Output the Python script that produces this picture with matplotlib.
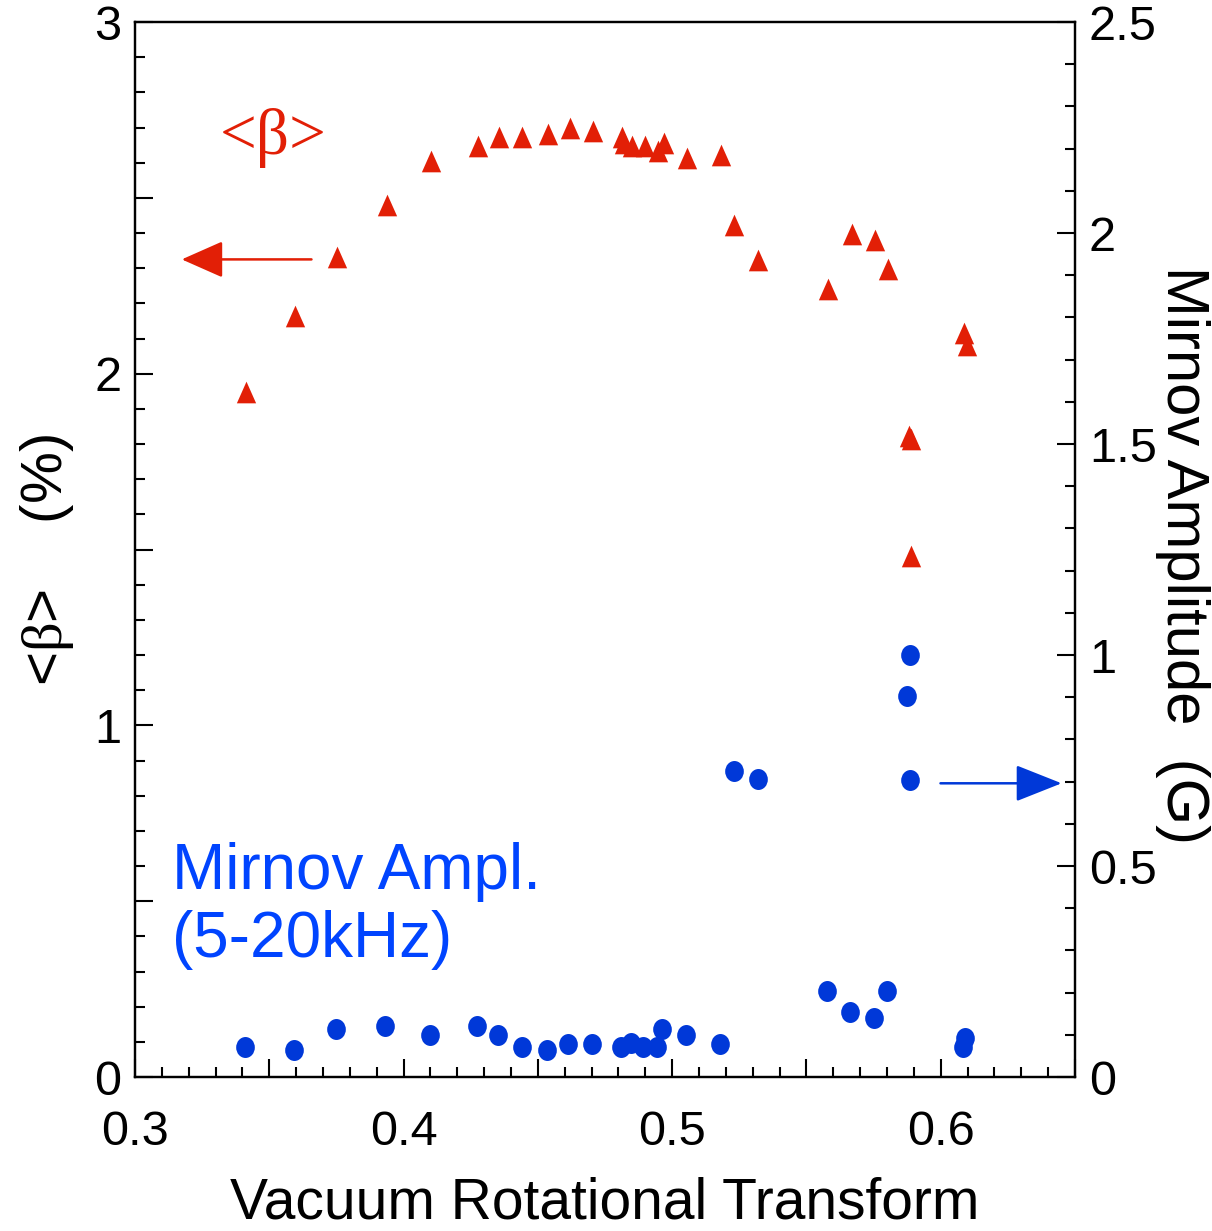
"""Volume-averaged beta and Mirnov amplitude vs vacuum rotational transform."""

import matplotlib
matplotlib.use("Agg")
import matplotlib.pyplot as plt
from matplotlib.path import Path
from matplotlib.transforms import Affine2D
from matplotlib.ticker import MultipleLocator, FuncFormatter

plt.rcParams["font.family"] = ["Liberation Sans", "DejaVu Sans"]
plt.rcParams["mathtext.fontset"] = "custom"
plt.rcParams["mathtext.it"] = "Liberation Serif"
plt.rcParams["mathtext.rm"] = "Liberation Serif"

RED = "#E21F06"
BLUE_MARK = "#0038D8"
BLUE_TEXT = "#0044FF"

# <beta> (%) vs iota (left axis)
iota_beta = [0.3412, 0.3597, 0.3752, 0.3937, 0.4103, 0.4278, 0.4356, 0.4442,
             0.4539, 0.4618, 0.4705, 0.4812, 0.4822, 0.4851, 0.4898, 0.4948,
             0.4968, 0.5055, 0.5181, 0.5230, 0.5318, 0.5580, 0.5668, 0.5755,
             0.5803, 0.5882, 0.5891, 0.5891, 0.6086, 0.6096]
beta = [1.948, 2.165, 2.332, 2.481, 2.606, 2.648, 2.673, 2.673,
        2.681, 2.698, 2.690, 2.673, 2.655, 2.648, 2.648, 2.632,
        2.657, 2.614, 2.623, 2.423, 2.324, 2.240, 2.398, 2.381,
        2.298, 1.822, 1.814, 1.482, 2.116, 2.082]

# Mirnov amplitude (G) vs iota (right axis)
iota_mirnov = [0.3408, 0.3592, 0.3748, 0.3932, 0.4098, 0.4273, 0.4351, 0.4439,
               0.4535, 0.4613, 0.4701, 0.4810, 0.4848, 0.4892, 0.4943, 0.4961,
               0.5050, 0.5177, 0.5230, 0.5318, 0.5575, 0.5663, 0.5750, 0.5799,
               0.5886, 0.5876, 0.5886, 0.6081, 0.6091]
mirnov = [0.071, 0.063, 0.113, 0.120, 0.099, 0.120, 0.099, 0.071,
          0.063, 0.078, 0.078, 0.072, 0.080, 0.070, 0.070, 0.114,
          0.100, 0.078, 0.725, 0.706, 0.203, 0.154, 0.140, 0.203,
          1.001, 0.904, 0.703, 0.071, 0.092]

# slightly tall markers, as in the original
tri = Path([(0, 1), (-0.89, -1), (0.89, -1), (0, 1)],
           [Path.MOVETO, Path.LINETO, Path.LINETO, Path.CLOSEPOLY])
ell = Path.unit_circle().transformed(Affine2D().scale(0.89, 1.0))

fig = plt.figure(figsize=(12.12, 12.31), dpi=100)
ax = fig.add_axes([0.1114, 0.1251, 0.7756, 0.8570])
ax2 = ax.twinx()

ax.plot(iota_beta, beta, linestyle="none", marker=tri, markersize=15.6,
        color=RED, markeredgewidth=0, zorder=3)
ax2.plot(iota_mirnov, mirnov, linestyle="none", marker=ell, markersize=15.1,
         color=BLUE_MARK, markeredgewidth=0, zorder=3)

ax.set_xlim(0.3, 0.65)
ax.set_ylim(0, 3)
ax2.set_ylim(0, 2.5)

# ticks
ax.xaxis.set_major_locator(MultipleLocator(0.05))
ax.xaxis.set_minor_locator(MultipleLocator(0.01))
ax.xaxis.set_major_formatter(FuncFormatter(
    lambda v, p: f"{v:.1f}" if abs(round(v * 10) - v * 10) < 1e-6 else ""))
ax.yaxis.set_major_locator(MultipleLocator(0.5))
ax.yaxis.set_minor_locator(MultipleLocator(0.1))
ax.yaxis.set_major_formatter(FuncFormatter(
    lambda v, p: f"{v:.0f}" if abs(round(v) - v) < 1e-6 else ""))
ax2.yaxis.set_major_locator(MultipleLocator(0.5))
ax2.yaxis.set_minor_locator(MultipleLocator(0.1))
ax2.yaxis.set_major_formatter(FuncFormatter(lambda v, p: f"{v:g}"))

ax.tick_params(axis="x", which="both", direction="in", top=False,
               width=1.5, labelsize=35, pad=24)
ax.tick_params(axis="y", which="both", direction="in", right=False,
               width=1.5, labelsize=35, pad=10)
ax2.tick_params(axis="y", which="both", direction="in", left=False,
                width=1.5, labelsize=35, pad=10)
for a in (ax, ax2):
    a.tick_params(which="major", length=13)
    a.tick_params(which="minor", length=7.5)
    for s in a.spines.values():
        s.set_linewidth(1.6)

ax.set_xlabel("Vacuum Rotational Transform", fontsize=41, labelpad=15)
ax.set_ylabel(r"<$\beta$>    (%)", fontsize=42)
ax.yaxis.set_label_coords(-0.063, 0.49)
ax2.set_ylabel("Mirnov Amplitude  (G)", fontsize=43, rotation=270,
               va="bottom")
ax2.yaxis.set_label_coords(1.085, 0.495)

# annotations
ax.text(0.3515, 2.67, "<β>", color=RED, fontsize=47, ha="center", va="center",
        family="Liberation Serif")
ax.text(0.3138, 0.342, "Mirnov Ampl.\n(5-20kHz)", color=BLUE_TEXT, fontsize=46,
        ha="left", va="baseline", linespacing=1.17)

ax.annotate("", xy=(0.3174, 2.325), xytext=(0.3657, 2.325),
            arrowprops=dict(arrowstyle="-|>,head_length=26,head_width=11.5",
                            mutation_scale=1, color=RED, lw=1.8,
                            shrinkA=0, shrinkB=0))
ax2.annotate("", xy=(0.645, 0.696), xytext=(0.5999, 0.696),
             arrowprops=dict(arrowstyle="-|>,head_length=29,head_width=11.5",
                             mutation_scale=1, color=BLUE_MARK, lw=1.8,
                             shrinkA=0, shrinkB=0))

fig.savefig("out.png", dpi=100)
